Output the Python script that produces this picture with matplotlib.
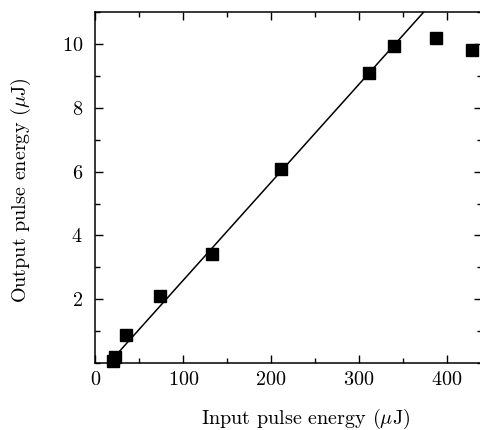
import matplotlib
matplotlib.use("Agg")
import matplotlib.pyplot as plt
from matplotlib.ticker import MultipleLocator

# measured points (input, output) in uJ
input_energy = [20, 22, 35, 73.5, 133, 211.5, 312, 339.5, 388, 429]
output_energy = [0.05, 0.2, 0.88, 2.1, 3.41, 6.1, 9.1, 9.95, 10.2, 9.81]

# linear fit drawn through the data
fit_x = [20, 380]
fit_slope = 0.0307
fit_threshold = 15.4
fit_y = [fit_slope * (x - fit_threshold) for x in fit_x]

plt.rcParams['font.family'] = ['cmr10', 'DejaVu Serif']
plt.rcParams['mathtext.fontset'] = 'cm'
plt.rcParams['axes.formatter.use_mathtext'] = True

fig = plt.figure(figsize=(4.81, 4.30), dpi=100)
ax = fig.add_axes([0.1985, 0.1558, 0.803, 0.8156])

ax.plot(fit_x, fit_y, color='black', lw=1.1)
ax.plot(input_energy, output_energy, 's', color='black', ms=8, clip_on=False)

ax.set_xlim(0, 440)
ax.set_ylim(0, 11)
ax.xaxis.set_major_locator(MultipleLocator(100))
ax.xaxis.set_minor_locator(MultipleLocator(50))
ax.set_yticks([2, 4, 6, 8, 10])
ax.yaxis.set_minor_locator(MultipleLocator(1))

ax.tick_params(which='both', direction='in', top=True, right=True, labelsize=14.5)
ax.tick_params(which='major', length=6, width=1)
ax.tick_params(which='minor', length=3.5, width=1)
ax.tick_params(axis='y', pad=9)
ax.tick_params(axis='x', pad=6)
for s in ax.spines.values():
    s.set_linewidth(1.1)

ax.set_xlabel(r'Input pulse energy ($\mu$J)', fontsize=14.5)
ax.set_ylabel(r'Output pulse energy ($\mu$J)', fontsize=14.5)
ax.xaxis.set_label_coords(0.543, -0.125)
ax.yaxis.set_label_coords(-0.162, 0.493)

fig.savefig('out.png', dpi=100)
